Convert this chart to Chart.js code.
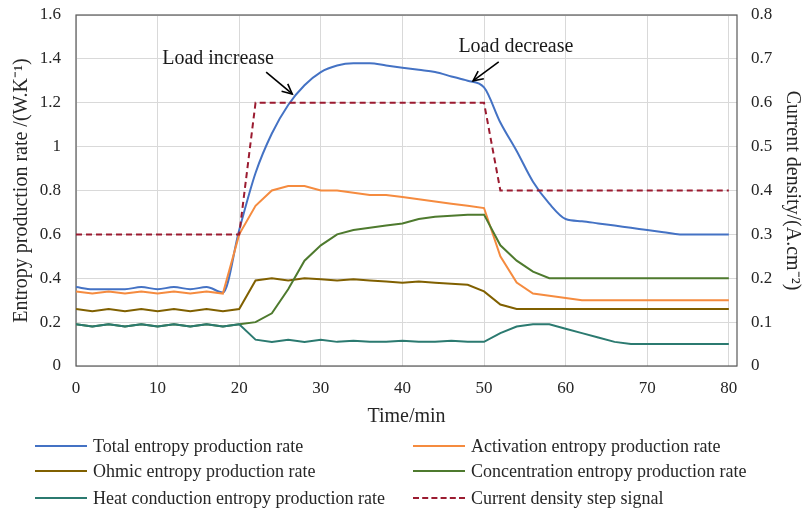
<!DOCTYPE html>
<html>
<head>
<meta charset="utf-8">
<script src="https://cdn.jsdelivr.net/npm/chart.js@4.4.0/dist/chart.umd.min.js"></script>
<style>
  html, body { margin: 0; padding: 0; background: #ffffff; }
  #wrap { position: relative; width: 805px; height: 514px; }
  #cv { position: absolute; left: 0; top: 0; }
  .lg { position: absolute; font-family: "Liberation Serif", "Times New Roman", serif; font-size: 18px; color: #262626; white-space: nowrap; line-height: 20px; }
  .lg .sw { position: absolute; left: 0; top: 9px; width: 52px; height: 0; border-top: 2px solid; }
  .lg span.t { position: absolute; left: 58px; top: 0; }
</style>
</head>
<body>
<div id="wrap">
  <canvas id="cv" width="805" height="514"></canvas>
  <div id="legend"></div>
</div>
<script>
// ---- data ----
const times = [0,2,4,6,8,10,12,14,16,18,20,22,24,26,28,30,32,34,36,38,40,42,44,46,48,50,52,54,56,58,60,62,64,66,68,70,72,74,76,78,80];
const totalRate = [0.36,0.35,0.35,0.35,0.36,0.35,0.36,0.35,0.36,0.335,0.62,0.88,1.06,1.19,1.28,1.34,1.37,1.38,1.38,1.37,1.36,1.35,1.34,1.32,1.30,1.27,1.11,0.98,0.84,0.74,0.67,0.66,0.65,0.64,0.63,0.62,0.61,0.60,0.60,0.60,0.60];
const activationRate = [0.34,0.33,0.34,0.33,0.34,0.33,0.34,0.33,0.34,0.33,0.60,0.73,0.80,0.82,0.82,0.80,0.80,0.79,0.78,0.78,0.77,0.76,0.75,0.74,0.73,0.72,0.50,0.38,0.33,0.32,0.31,0.30,0.30,0.30,0.30,0.30,0.30,0.30,0.30,0.30,0.30];
const ohmicRate = [0.26,0.25,0.26,0.25,0.26,0.25,0.26,0.25,0.26,0.25,0.26,0.39,0.40,0.39,0.40,0.395,0.39,0.395,0.39,0.385,0.38,0.385,0.38,0.375,0.37,0.34,0.28,0.26,0.26,0.26,0.26,0.26,0.26,0.26,0.26,0.26,0.26,0.26,0.26,0.26,0.26];
const concentrationRate = [0.19,0.18,0.19,0.18,0.19,0.18,0.19,0.18,0.19,0.18,0.19,0.20,0.24,0.35,0.48,0.55,0.60,0.62,0.63,0.64,0.65,0.67,0.68,0.685,0.69,0.69,0.55,0.48,0.43,0.40,0.40,0.40,0.40,0.40,0.40,0.40,0.40,0.40,0.40,0.40,0.40];
const heatRate = [0.19,0.18,0.19,0.18,0.19,0.18,0.19,0.18,0.19,0.18,0.19,0.12,0.11,0.12,0.11,0.12,0.11,0.115,0.11,0.11,0.115,0.11,0.11,0.115,0.11,0.11,0.15,0.18,0.19,0.19,0.17,0.15,0.13,0.11,0.10,0.10,0.10,0.10,0.10,0.10,0.10];
const currentTimes = [0,20,22,50,52,80];
const currentDensity = [0.3,0.3,0.6,0.6,0.4,0.4];
const xTicks = [0,10,20,30,40,50,60,70,80];
const leftTicks = [0,0.2,0.4,0.6,0.8,1,1.2,1.4,1.6];
const rightTicks = [0,0.1,0.2,0.3,0.4,0.5,0.6,0.7,0.8];
const seriesNames = ["Total entropy production rate","Activation entropy production rate","Ohmic entropy production rate","Concentration entropy production rate","Heat conduction entropy production rate","Current density step signal"];
const annotations = [
  {text: "Load increase", x: 17.4, y: 1.40, ax0: 23.3, ay0: 1.34, ax1: 26.5, ay1: 1.24},
  {text: "Load decrease", x: 53.9, y: 1.454, ax0: 51.8, ay0: 1.386, ax1: 48.65, ay1: 1.30}
];

const colors = ["#4472C4","#F58B3F","#806000","#4E7A2E","#2B7A70","#9B1B30"];
const serif = "'Liberation Serif', 'Times New Roman', serif";

function pts(xs, ys) { return xs.map((x, i) => ({x: x, y: ys[i]})); }

const annPlugin = {
  id: 'ann',
  afterDatasetsDraw(chart) {
    const ctx = chart.ctx, xs = chart.scales.x, ys = chart.scales.y;
    ctx.save();
    ctx.font = "20px " + serif;
    ctx.fillStyle = "#1a1a1a";
    ctx.textAlign = "center";
    ctx.textBaseline = "middle";
    annotations.forEach(a => {
      ctx.fillText(a.text, xs.getPixelForValue(a.x), ys.getPixelForValue(a.y));
      const x0 = xs.getPixelForValue(a.ax0), y0 = ys.getPixelForValue(a.ay0);
      const x1 = xs.getPixelForValue(a.ax1), y1 = ys.getPixelForValue(a.ay1);
      ctx.strokeStyle = "#000"; ctx.lineWidth = 1.6;
      ctx.beginPath(); ctx.moveTo(x0, y0); ctx.lineTo(x1, y1); ctx.stroke();
      const ang = Math.atan2(y1 - y0, x1 - x0), L = 11, W = 0.45;
      ctx.beginPath();
      ctx.moveTo(x1 - L * Math.cos(ang - W), y1 - L * Math.sin(ang - W));
      ctx.lineTo(x1, y1);
      ctx.lineTo(x1 - L * Math.cos(ang + W), y1 - L * Math.sin(ang + W));
      ctx.stroke();
    });
    ctx.restore();
  },
  beforeDatasetsDraw(chart) {
    const {ctx, chartArea: c} = chart;
    ctx.save();
    ctx.strokeStyle = "#595959"; ctx.lineWidth = 1.2;
    ctx.strokeRect(c.left, c.top, c.right - c.left, c.bottom - c.top);
    ctx.restore();
  }
};

const ds = [
  {label: seriesNames[0], data: pts(times, totalRate), borderColor: colors[0]},
  {label: seriesNames[1], data: pts(times, activationRate), borderColor: colors[1]},
  {label: seriesNames[2], data: pts(times, ohmicRate), borderColor: colors[2]},
  {label: seriesNames[3], data: pts(times, concentrationRate), borderColor: colors[3]},
  {label: seriesNames[4], data: pts(times, heatRate), borderColor: colors[4]},
  {label: seriesNames[5], data: pts(currentTimes, currentDensity), borderColor: colors[5], borderDash: [6, 4]}
].map(d => Object.assign({borderWidth: 2, pointRadius: 0, fill: false, tension: 0, yAxisID: 'y'}, d));
ds[0].cubicInterpolationMode = 'monotone';
ds[5].yAxisID = 'y2';
ds.forEach((d, i) => d.order = 6 - i);

function vFit(w) {
  return function (s) { s.width = w; s.paddingTop = 0; s.paddingBottom = 0; };
}

new Chart(document.getElementById('cv'), {
  type: 'line',
  data: {datasets: ds},
  plugins: [annPlugin],
  options: {
    responsive: false,
    animation: false,
    events: [],
    layout: {padding: {top: 15, left: 0, right: 0, bottom: 84}},
    plugins: {legend: {display: false}, tooltip: {enabled: false}},
    scales: {
      x: {
        type: 'linear', min: 0, max: 81,
        afterFit(s) { s.height = 64; s.paddingLeft = 0; s.paddingRight = 0; },
        afterBuildTicks(s) { s.ticks = xTicks.map(v => ({value: v})); },
        grid: {color: "#D9D9D9", lineWidth: 1, drawTicks: false},
        border: {display: false},
        ticks: {padding: 12, color: "#262626", font: {family: serif, size: 17}, maxRotation: 0},
        title: {display: true, text: "Time/min", color: "#262626", font: {family: serif, size: 20}, padding: {top: 0, bottom: 1}}
      },
      y: {
        position: 'left', min: 0, max: 1.6,
        afterFit: vFit(76),
        afterBuildTicks(s) { s.ticks = leftTicks.map(v => ({value: v})); },
        grid: {color: "#D9D9D9", lineWidth: 1, drawTicks: false},
        border: {display: false},
        ticks: {padding: 15, color: "#262626", font: {family: serif, size: 17}, callback: v => String(+v.toFixed(1))},
        title: {display: true, text: "Entropy production rate /(W.K\u207B\u00B9)", color: "#262626", font: {family: serif, size: 20}, padding: {top: 10, bottom: 0}}
      },
      y2: {
        position: 'right', min: 0, max: 0.8,
        afterFit: vFit(68),
        afterBuildTicks(s) { s.ticks = rightTicks.map(v => ({value: v})); },
        grid: {display: false, drawTicks: false},
        border: {display: false},
        ticks: {padding: 14, color: "#262626", font: {family: serif, size: 17}, callback: v => String(+v.toFixed(1))},
        title: {display: true, text: "Current density/(A.cm\u207B\u00B2)", color: "#262626", font: {family: serif, size: 20}, padding: {top: 1, bottom: 0}}
      }
    }
  }
});

// ---- legend (HTML) ----
const lgPos = [[35, 436],[413, 436],[35, 461],[413, 461],[35, 488],[413, 488]];
const legend = document.getElementById('legend');
seriesNames.forEach((n, i) => {
  const d = document.createElement('div');
  d.className = 'lg';
  d.style.left = lgPos[i][0] + 'px';
  d.style.top = lgPos[i][1] + 'px';
  const sw = document.createElement('div');
  sw.className = 'sw';
  sw.style.borderTopColor = colors[i];
  if (i === 5) sw.style.borderTopStyle = 'dashed';
  const t = document.createElement('span');
  t.className = 't';
  t.textContent = n;
  d.appendChild(sw); d.appendChild(t);
  legend.appendChild(d);
});
</script>
</body>
</html>
